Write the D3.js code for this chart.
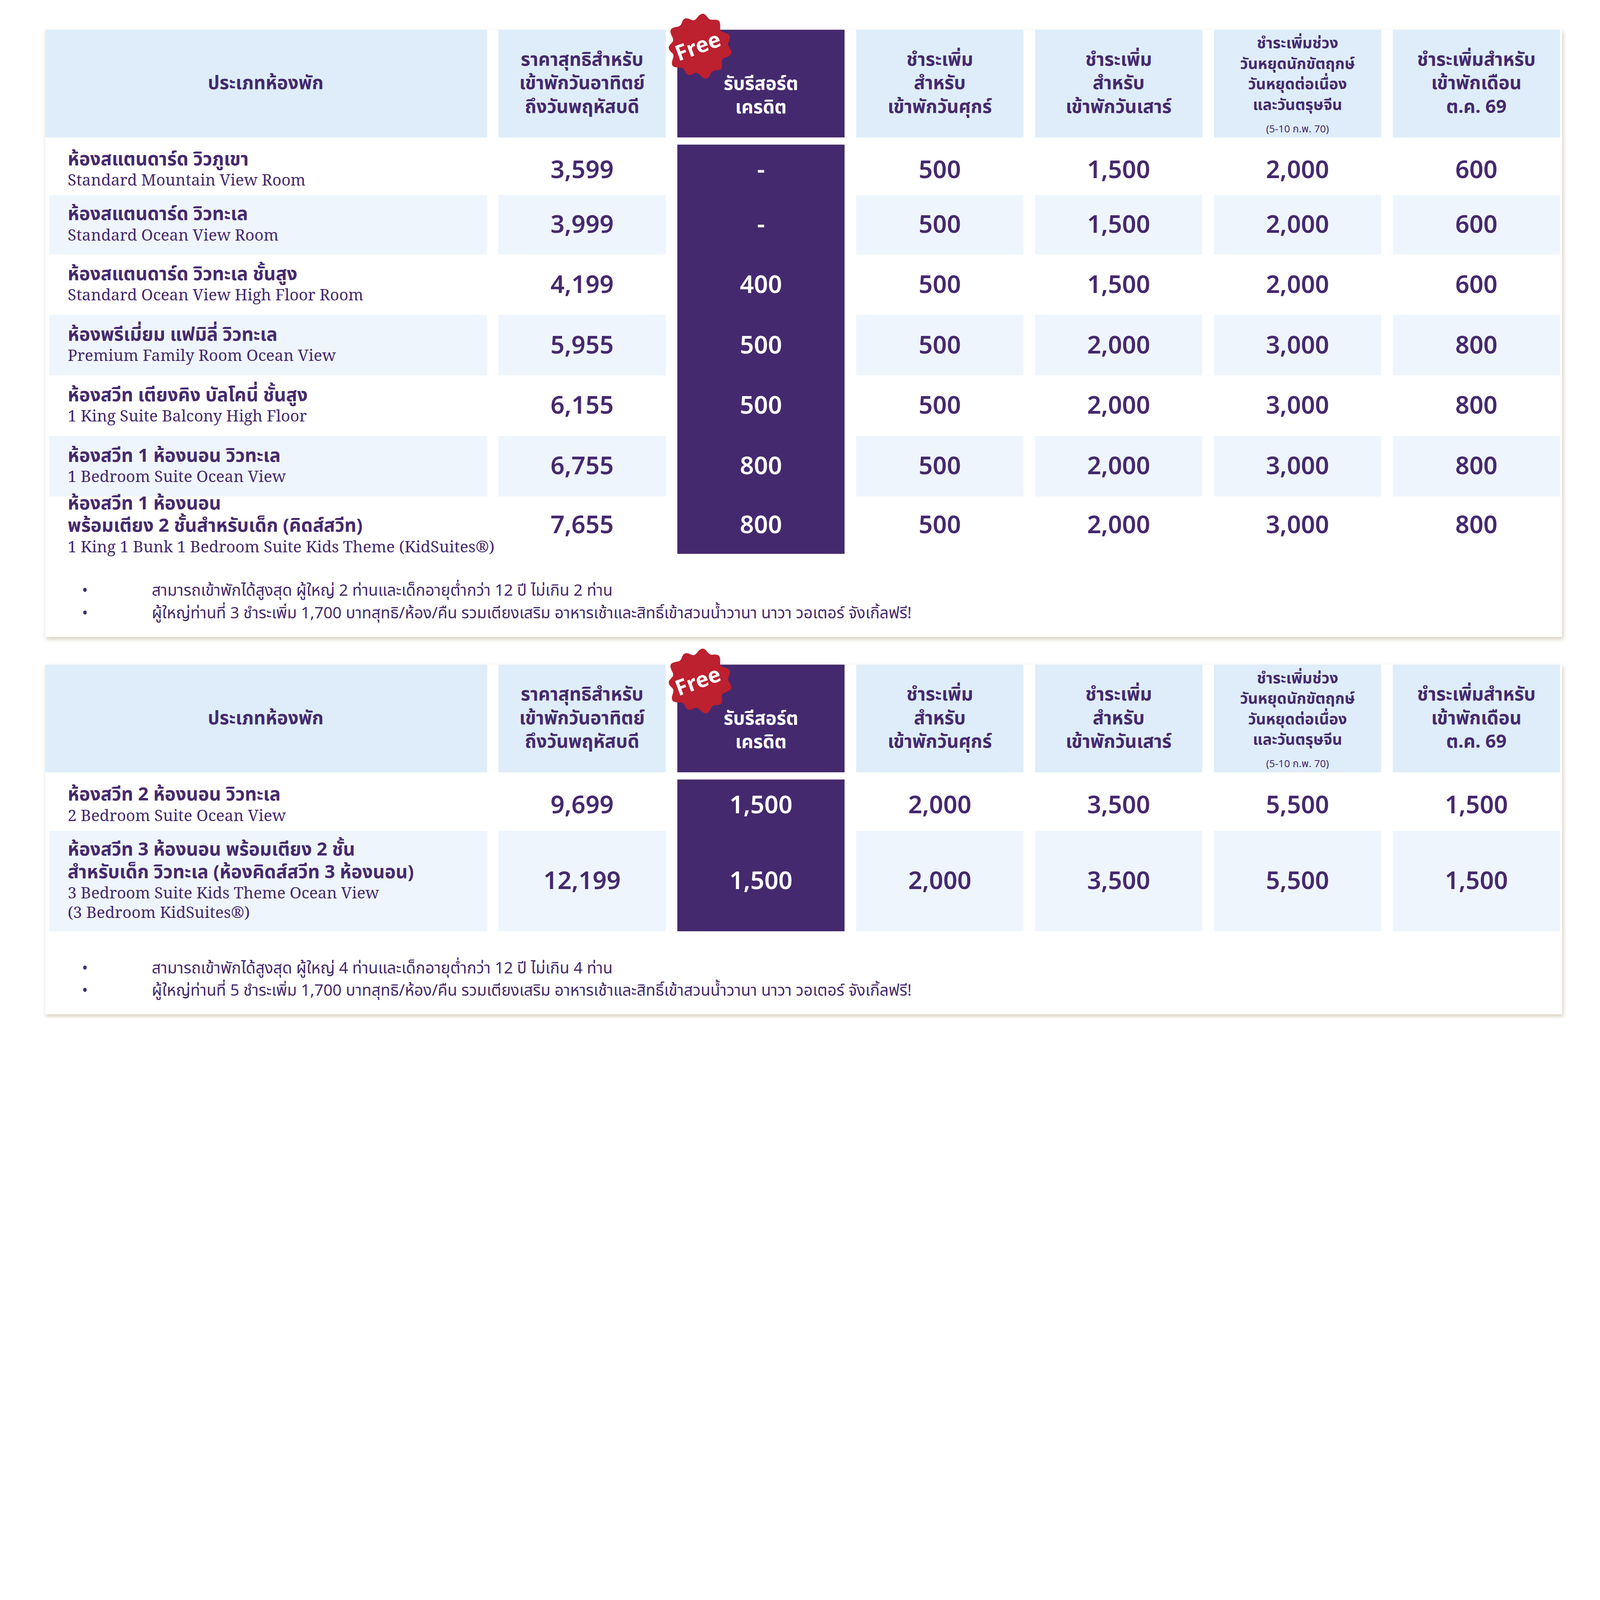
<!DOCTYPE html>
<html><head><meta charset="utf-8">
<script src="https://cdn.jsdelivr.net/npm/d3@7"></script>
<style>
html,body{margin:0;padding:0;background:#fff;}
svg{display:block;width:100vw;height:auto;aspect-ratio:8000/5091;}
text{font-family:"Noto Sans","Noto Sans Thai",Tahoma,sans-serif;fill:#45296e;}
</style></head>
<body><svg id="c"></svg>
<script>
// ---- data ----
const colKeys = ["weekday", "credit", "fri", "sat", "holiday", "oct"];
const headerRoom = "ประเภทห้องพัก";
const headerLines = [
  ["ราคาสุทธิสำหรับ", "เข้าพักวันอาทิตย์", "ถึงวันพฤหัสบดี"],
  ["รับรีสอร์ต", "เครดิต"],
  ["ชำระเพิ่ม", "สำหรับ", "เข้าพักวันศุกร์"],
  ["ชำระเพิ่ม", "สำหรับ", "เข้าพักวันเสาร์"],
  ["ชำระเพิ่มช่วง", "วันหยุดนักขัตฤกษ์", "วันหยุดต่อเนื่อง", "และวันตรุษจีน"],
  ["ชำระเพิ่มสำหรับ", "เข้าพักเดือน", "ต.ค. 69"]
];
const holidayNote = "(5-10 ก.พ. 70)";

const rooms1Thai = [
  ["ห้องสแตนดาร์ด วิวภูเขา"],
  ["ห้องสแตนดาร์ด วิวทะเล"],
  ["ห้องสแตนดาร์ด วิวทะเล ชั้นสูง"],
  ["ห้องพรีเมี่ยม แฟมิลี่ วิวทะเล"],
  ["ห้องสวีท เตียงคิง บัลโคนี่ ชั้นสูง"],
  ["ห้องสวีท 1 ห้องนอน วิวทะเล"],
  ["ห้องสวีท 1 ห้องนอน", "พร้อมเตียง 2 ชั้นสำหรับเด็ก (คิดส์สวีท)"]
];
const rooms1Eng = [
  ["Standard Mountain View Room"],
  ["Standard Ocean View Room"],
  ["Standard Ocean View High Floor Room"],
  ["Premium Family Room Ocean View"],
  ["1 King Suite Balcony High Floor"],
  ["1 Bedroom Suite Ocean View"],
  ["1 King 1 Bunk 1 Bedroom Suite Kids Theme (KidSuites®)"]
];
const weekday1 = ["3,599", "3,999", "4,199", "5,955", "6,155", "6,755", "7,655"];
const credit1  = ["-", "-", "400", "500", "500", "800", "800"];
const fri1     = ["500", "500", "500", "500", "500", "500", "500"];
const sat1     = ["1,500", "1,500", "1,500", "2,000", "2,000", "2,000", "2,000"];
const holiday1 = ["2,000", "2,000", "2,000", "3,000", "3,000", "3,000", "3,000"];
const oct1     = ["600", "600", "600", "800", "800", "800", "800"];
const notes1 = [
  "สามารถเข้าพักได้สูงสุด ผู้ใหญ่ 2 ท่านและเด็กอายุต่ำกว่า 12 ปี ไม่เกิน 2 ท่าน",
  "ผู้ใหญ่ท่านที่ 3 ชำระเพิ่ม 1,700 บาทสุทธิ/ห้อง/คืน รวมเตียงเสริม อาหารเช้าและสิทธิ์เข้าสวนน้ำวานา นาวา วอเตอร์ จังเกิ้ลฟรี!"
];

const rooms2Thai = [
  ["ห้องสวีท 2 ห้องนอน วิวทะเล"],
  ["ห้องสวีท 3 ห้องนอน พร้อมเตียง 2 ชั้น", "สำหรับเด็ก วิวทะเล (ห้องคิดส์สวีท 3 ห้องนอน)"]
];
const rooms2Eng = [
  ["2 Bedroom Suite Ocean View"],
  ["3 Bedroom Suite Kids Theme Ocean View", "(3 Bedroom KidSuites®)"]
];
const weekday2 = ["9,699", "12,199"];
const credit2  = ["1,500", "1,500"];
const fri2     = ["2,000", "2,000"];
const sat2     = ["3,500", "3,500"];
const holiday2 = ["5,500", "5,500"];
const oct2     = ["1,500", "1,500"];
const notes2 = [
  "สามารถเข้าพักได้สูงสุด ผู้ใหญ่ 4 ท่านและเด็กอายุต่ำกว่า 12 ปี ไม่เกิน 4 ท่าน",
  "ผู้ใหญ่ท่านที่ 5 ชำระเพิ่ม 1,700 บาทสุทธิ/ห้อง/คืน รวมเตียงเสริม อาหารเช้าและสิทธิ์เข้าสวนน้ำวานา นาวา วอเตอร์ จังเกิ้ลฟรี!"
];

// ---- drawing ----
const W = 1560, H = 5091 * 1560 / 8000;
const PURPLE = "#45296e", HEAD = "#deedf9", LIGHT = "#eff5fc";
const svg = d3.select("#c").attr("viewBox", `0 0 ${W} ${H}`);
const defs = svg.append("defs");
const f = defs.append("filter").attr("id", "sh").attr("x", "-5%").attr("y", "-5%").attr("width", "110%").attr("height", "115%");
f.append("feDropShadow").attr("dx", 1).attr("dy", 2).attr("stdDeviation", 2).attr("flood-color", "#b8a88a").attr("flood-opacity", 0.6);

const x = d3.scaleBand().domain(colKeys).range([486, 1521]).paddingInner(0.065);

function badge(g, cx, cy) {
  const n = 160, r = 29;
  const pts = d3.range(n).map(i => {
    const a = i / n * 2 * Math.PI;
    return [a, r + 2.2 * Math.sin(a * 11 + 0.6) + 1.2 * Math.sin(a * 5)];
  });
  g.append("path").attr("transform", `translate(${cx},${cy})`)
    .attr("d", d3.lineRadial().curve(d3.curveCardinalClosed)(pts))
    .attr("fill", "#bd202e");
  g.append("text").attr("transform", `translate(${cx + 1},${cy + 7}) rotate(-20)`)
    .attr("text-anchor", "middle").attr("font-size", 21).attr("font-weight", 700)
    .style("fill", "#fff").text("Free");
}

function panel(top, rowH, thai, eng, vals, notes) {
  const g = svg.append("g");
  const rowsBottom = top + 112 + d3.sum(rowH);
  const bottom = rowsBottom + 81;
  g.append("rect").attr("x", 44).attr("y", top).attr("width", 1479).attr("height", bottom - top)
    .attr("fill", "#fff").attr("filter", "url(#sh)");
  // header
  g.append("rect").attr("x", 44).attr("y", top).attr("width", 431).attr("height", 105).attr("fill", HEAD);
  g.append("text").attr("x", 259).attr("y", top + 58).attr("text-anchor", "middle")
    .attr("font-size", 18).attr("font-weight", 700).text(headerRoom);
  colKeys.forEach((k, i) => {
    const purple = k === "credit";
    g.append("rect").attr("x", x(k)).attr("y", top).attr("width", x.bandwidth()).attr("height", 105)
      .attr("fill", purple ? PURPLE : HEAD);
    const lines = headerLines[i];
    const small = k === "holiday";
    const lh = small ? 20 : 23;
    const y0 = top + 52 - (lines.length - 1) * lh / 2 + (purple ? 12 : 0) + (small ? -4 : 6);
    lines.forEach((l, j) => g.append("text").attr("x", x(k) + x.bandwidth() / 2)
      .attr("y", y0 + j * lh).attr("text-anchor", "middle")
      .attr("font-size", small ? 15 : 18).attr("font-weight", 700)
      .style("fill", purple ? "#fff" : PURPLE).text(l));
    if (small) g.append("text").attr("x", x(k) + x.bandwidth() / 2).attr("y", top + 100)
      .attr("text-anchor", "middle").attr("font-size", 10).text(holidayNote);
  });
  // rows
  let y = top + 112;
  g.append("rect").attr("x", x("credit")).attr("y", y).attr("width", x.bandwidth())
    .attr("height", d3.sum(rowH)).attr("fill", PURPLE);
  rowH.forEach((h, r) => {
    if (r % 2 === 1) {
      g.append("rect").attr("x", 48).attr("y", y).attr("width", 427).attr("height", h).attr("fill", LIGHT);
      colKeys.forEach(k => { if (k !== "credit")
        g.append("rect").attr("x", x(k)).attr("y", y).attr("width", x.bandwidth()).attr("height", h).attr("fill", LIGHT); });
    }
    const cy = y + h / 2;
    const nT = thai[r].length, nE = eng[r].length;
    const total = nT * 22 + nE * 19;
    let ty = cy - total / 2 + 16;
    thai[r].forEach(l => { g.append("text").attr("x", 66).attr("y", ty).attr("font-size", 18)
      .attr("font-weight", 700).text(l); ty += 22; });
    ty -= 2;
    eng[r].forEach(l => { g.append("text").attr("x", 66).attr("y", ty).attr("font-size", 15.5)
      .style("font-family", "'Noto Serif','DejaVu Serif',serif").text(l); ty += 19; });
    colKeys.forEach((k, i) => g.append("text").attr("x", x(k) + x.bandwidth() / 2).attr("y", cy + 8)
      .attr("text-anchor", "middle").attr("font-size", 24).attr("font-weight", 600)
      .style("fill", k === "credit" ? "#fff" : PURPLE).text(vals[i][r]));
    y += h;
  });
  notes.forEach((n, i) => {
    const ny = rowsBottom + 41 + i * 22;
    g.append("text").attr("x", 80).attr("y", ny).attr("font-size", 15).text("•");
    g.append("text").attr("x", 148).attr("y", ny).attr("font-size", 15.5).text(n);
  });
  badge(g, 682, top + 16);
}

panel(29, [49, 58, 59, 59, 59, 59, 56], rooms1Thai, rooms1Eng,
  [weekday1, credit1, fri1, sat1, holiday1, oct1], notes1);
panel(648, [50, 98], rooms2Thai, rooms2Eng,
  [weekday2, credit2, fri2, sat2, holiday2, oct2], notes2);
</script></body></html>
